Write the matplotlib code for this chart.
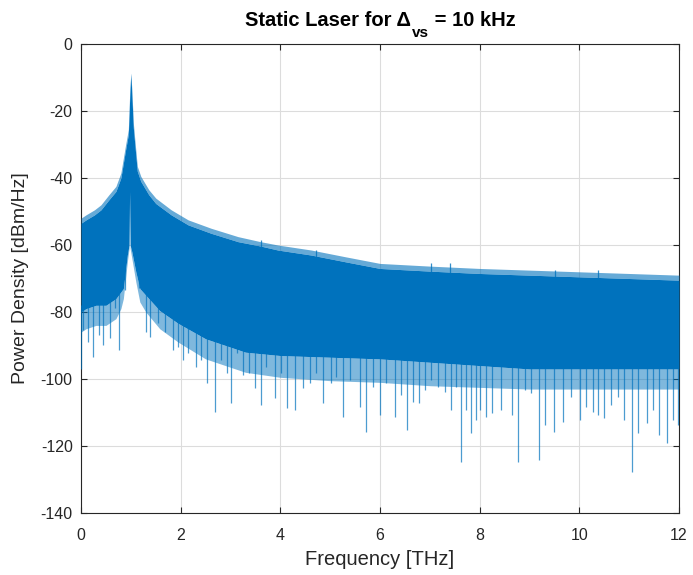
import numpy as np
import matplotlib
matplotlib.use("Agg")
import matplotlib.pyplot as plt

# ---------------- data ----------------
# upper edge of the dense band (THz, dBm/Hz)
upper_freq = [0.0, 0.1, 0.27, 0.4, 0.56, 0.7, 0.8, 0.89, 0.95, 0.98, 1.0, 1.02, 1.05,
              1.08, 1.13, 1.2, 1.36, 1.5, 1.81, 2.15, 2.61, 3.15, 3.6, 3.95, 4.62,
              5.3, 6.0, 7.0, 8.0, 9.0, 10.0, 11.0, 12.0]
upper_db = [-53.5, -52.5, -51.0, -49.5, -46.5, -44.0, -40.0, -32.0, -27.0, -15.0, -8.7,
            -15.0, -25.0, -30.0, -38.0, -41.0, -45.0, -47.6, -51.0, -54.0, -56.5, -59.0,
            -60.3, -61.5, -63.0, -65.0, -67.0, -67.8, -68.5, -69.0, -69.5, -70.0,
            -70.5]
# outer tips of the ragged top edge
upper_tip_db = [-52.0, -51.0, -49.5, -48.0, -45.0, -42.5, -38.5, -30.5, -25.5, -13.5,
                -8.7, -13.5, -23.5, -28.5, -36.5, -39.5, -43.5, -46.0, -49.5, -52.5,
                -55.0, -57.5, -59.0, -60.0, -61.5, -63.5, -65.5, -66.3, -67.0, -67.5,
                -68.0, -68.5, -69.0]

# lower edge of the dense band
lower_freq = [0.0, 0.1, 0.3, 0.5, 0.7, 0.8, 0.85, 0.93, 0.965, 0.975, 0.985, 1.02,
              1.1, 1.18, 1.3, 1.58, 1.95, 2.5, 3.3, 4.0, 5.0, 6.0, 7.0, 8.0, 9.0,
              10.0, 11.0, 12.0]
lower_db = [-80.0, -79.0, -78.0, -78.0, -76.0, -74.0, -73.0, -63.0, -60.0, -44.0,
            -60.0, -62.0, -68.0, -73.0, -75.0, -79.6, -83.4, -88.0, -92.0, -93.0,
            -93.5, -94.0, -95.0, -96.0, -97.0, -97.0, -97.0, -97.0]
# reach of the short ragged spikes below the dense band
lower_tip_db = [-86.0, -85.0, -84.0, -84.0, -82.0, -79.0, -76.0, -65.0, -61.0, -44.0,
                -61.0, -64.0, -71.0, -77.0, -80.0, -85.0, -89.0, -94.0, -98.0, -99.5,
                -100.5, -101.0, -102.0, -102.5, -103.0, -103.0, -103.0, -103.0]

# isolated downward spikes (frequency, minimum value)
dip_freq = [0.0, 0.04, 0.14, 0.24, 0.355, 0.44, 0.58, 0.68, 0.76, 0.88, 1.16, 1.30,
            1.38, 1.55, 1.68, 1.85, 1.95, 2.05, 2.15, 2.31, 2.41, 2.53, 2.68, 2.80,
            2.92, 3.02, 3.14, 3.25, 3.37, 3.49, 3.61, 3.72, 3.89, 4.02, 4.14, 4.29,
            4.46, 4.59, 4.72, 4.86, 5.01, 5.12, 5.26, 5.39, 5.59, 5.71, 5.86, 5.99,
            6.13, 6.30, 6.42, 6.54, 6.66, 6.78, 6.90, 7.03, 7.16, 7.30, 7.42, 7.53,
            7.62, 7.73, 7.83, 7.93, 8.00, 8.13, 8.25, 8.43, 8.64, 8.76, 8.90, 9.04,
            9.19, 9.31, 9.49, 9.67, 9.84, 10.01, 10.14, 10.27, 10.38, 10.50, 10.64,
            10.78, 10.90, 11.06, 11.18, 11.35, 11.48, 11.59, 11.75, 11.88, 11.97]
dip_db = [-97.0, -85.4, -89.0, -93.4, -86.9, -89.9, -87.8, -78.9, -91.3, -73.4, -72.9,
          -85.9, -87.4, -83.3, -85.9, -91.3, -90.4, -94.3, -92.3, -96.4, -94.3, -101.2,
          -109.8, -94.3, -98.3, -107.2, -92.3, -98.8, -98.3, -102.7, -107.8, -96.4,
          -105.7, -98.3, -108.6, -109.3, -102.8, -101.3, -98.3, -107.3, -101.3, -99.4,
          -111.2, -100.3, -108.3, -115.8, -102.3, -110.7, -101.3, -111.2, -104.8,
          -115.2, -106.9, -107.2, -103.3, -100.3, -102.3, -103.9, -109.3, -102.3,
          -124.7, -109.3, -116.2, -112.2, -109.3, -111.2, -110.2, -109.3, -110.7,
          -124.7, -103.3, -104.3, -124.2, -113.7, -115.7, -112.7, -105.3, -112.2,
          -108.3, -109.8, -110.7, -111.7, -107.8, -105.3, -112.2, -127.7, -116.2,
          -113.2, -109.3, -116.7, -119.2, -112.2, -113.7]

# isolated upward spikes on the top edge
peak_freq = [3.61, 4.72, 7.03, 7.40, 9.51, 10.37]
peak_db = [-58.5, -61.5, -65.5, -65.4, -67.5, -67.4]

title_main = "Static Laser for Δ"
title_sub = "vs"
title_rest = " = 10 kHz"
xlabel_text = "Frequency [THz]"
ylabel_text = "Power Density [dBm/Hz]"
xticks = [0, 2, 4, 6, 8, 10, 12]
yticks = [0, -20, -40, -60, -80, -100, -120, -140]

# ---------------- style ----------------
plt.rcParams["font.family"] = ["Liberation Sans", "DejaVu Sans"]

blue = "#0072BD"
dark = "#262626"
W, H = 693, 575

fig = plt.figure(figsize=(W / 100, H / 100), dpi=100)
ax = fig.add_axes([81 / W, 1 - 513 / H, 598 / W, 469 / H])

# dense band on a fine common grid
fgrid = np.union1d(np.union1d(upper_freq, lower_freq), np.linspace(0, 12, 2401))
up = np.interp(fgrid, upper_freq, upper_db)
up_tip = np.interp(fgrid, upper_freq, upper_tip_db)
lo = np.interp(fgrid, lower_freq, lower_db)
lo_tip = np.interp(fgrid, lower_freq, lower_tip_db)
ax.fill_between(fgrid, lo, up, color=blue, linewidth=0, zorder=3)
ax.fill_between(fgrid, up, up_tip, color=blue, alpha=0.6, linewidth=0, zorder=3)
ax.fill_between(fgrid, lo_tip, lo, color=blue, alpha=0.5, linewidth=0, zorder=3)

# downward spikes
dip_top = np.interp(dip_freq, lower_freq, lower_db)
ax.vlines(dip_freq, dip_db, dip_top + 2, color=blue, linewidth=0.9, alpha=0.7, zorder=3)
# upward spikes
peak_base = np.interp(peak_freq, upper_freq, upper_db)
ax.vlines(peak_freq, peak_base - 2, peak_db, color=blue, linewidth=0.9, alpha=0.8, zorder=3)

ax.set_xlim(0, 12)
ax.set_ylim(-140, 0)
ax.set_xticks(xticks)
ax.set_yticks(yticks)
ax.set_xticklabels([str(t) for t in xticks])
ax.set_yticklabels([str(t) for t in yticks])
ax.grid(True, color="#dcdcdc", linewidth=0.8, zorder=0)
ax.set_axisbelow(True)
ax.tick_params(direction="in", top=True, right=True, length=4, width=0.8,
               colors=dark, labelsize=11.5)
ax.tick_params(axis="x", pad=11)
ax.tick_params(axis="y", pad=6)
for s in ax.spines.values():
    s.set_color(dark)
    s.set_linewidth(0.8)

ax.set_xlabel(xlabel_text, fontsize=14.5, color=dark, labelpad=5)
ax.set_ylabel(ylabel_text, fontsize=14, color=dark, labelpad=8)

# title assembled from main text, dropped subscript and remainder
renderer = fig.canvas.get_renderer()
base_y = 1 - 26 / H
tkw = dict(fontweight="bold", color="black", va="baseline", ha="left")
t1 = fig.text(0, base_y, title_main, fontsize=14.5, **tkw)
t2 = fig.text(0, base_y - 11 / H, title_sub, fontsize=11, **tkw)
t3 = fig.text(0, base_y, title_rest, fontsize=14.5, **tkw)
w1 = t1.get_window_extent(renderer).width
w2 = t2.get_window_extent(renderer).width
w3 = t3.get_window_extent(renderer).width
total = w1 + 1 + w2 + w3
x0 = (81 + 679) / 2 - total / 2
t1.set_x(x0 / W)
t2.set_x((x0 + w1 + 1) / W)
t3.set_x((x0 + w1 + 1 + w2) / W)

fig.savefig("out.png", dpi=100, facecolor="white")
